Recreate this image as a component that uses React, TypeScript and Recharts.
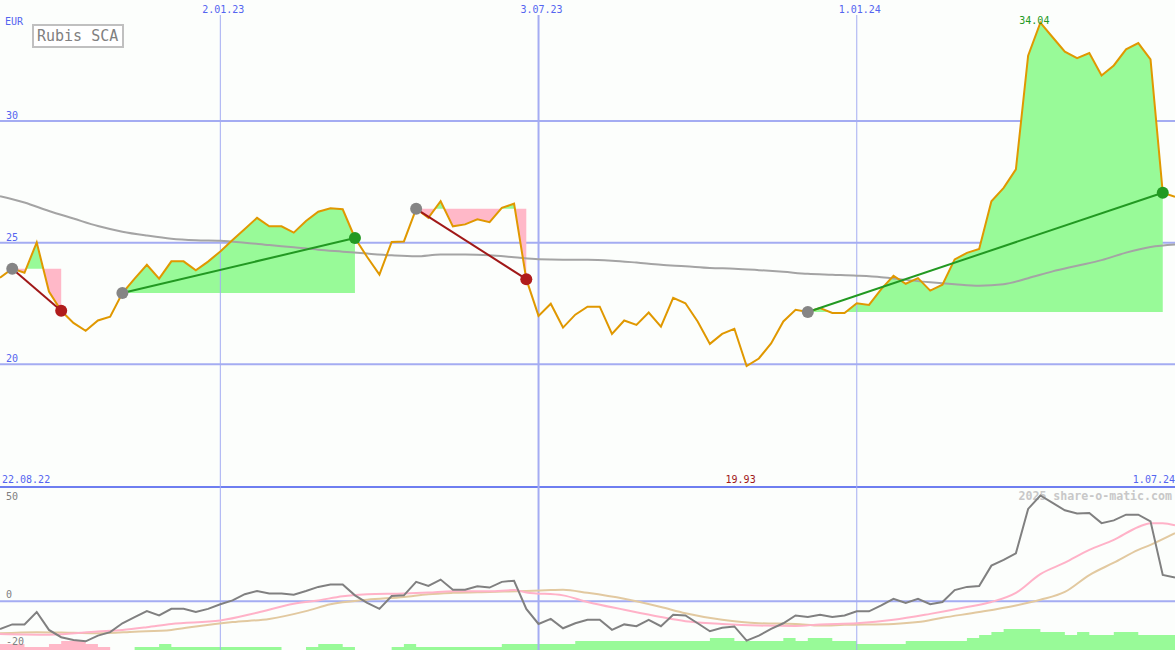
import React from 'react';
import { ComposedChart, Line, Area, XAxis, YAxis, ReferenceLine, ReferenceDot, CartesianGrid } from 'recharts';

// ---------- data ----------
const price = [
  23.56, 23.93, 23.76, 25.01, 22.99, 22.2, 21.7, 21.38, 21.8, 21.96,
  22.93, 23.52, 24.09, 23.52, 24.23, 24.23, 23.86, 24.22, 24.64, 25.11,
  25.56, 26.02, 25.67, 25.67, 25.41, 25.89, 26.27, 26.41, 26.37, 25.19,
  24.41, 23.69, 25.03, 25.05, 26.39, 26.02, 26.7, 25.67, 25.75, 25.96,
  25.84, 26.43, 26.6, 23.5, 21.99, 22.49, 21.51, 22.04, 22.37, 22.37,
  21.25, 21.8, 21.62, 22.13, 21.55, 22.73, 22.51, 21.76, 20.84, 21.25,
  21.46, 19.93, 20.24, 20.86, 21.76, 22.24, 22.15, 22.31, 22.11, 22.11,
  22.51, 22.44, 23.09, 23.64, 23.31, 23.54, 23.03, 23.27, 24.31, 24.58,
  24.74, 26.7, 27.25, 28.01, 32.68, 34.04, 33.44, 32.85, 32.58, 32.79,
  31.87, 32.28, 32.94, 33.2, 32.53, 27.05, 26.88,
];
// long moving average, one reading every 2 weeks
const maValues = [
  26.91, 26.65, 26.3, 25.99, 25.68, 25.45, 25.29, 25.16, 25.1, 25.08,
  25.0, 24.9, 24.81, 24.71, 24.63, 24.55, 24.48, 24.44, 24.51, 24.51,
  24.48, 24.4, 24.32, 24.3, 24.3, 24.26, 24.18, 24.09, 24.03, 23.96,
  23.93, 23.87, 23.8, 23.72, 23.68, 23.64, 23.58, 23.47, 23.37, 23.29,
  23.23, 23.29, 23.54, 23.82, 24.05, 24.28, 24.59, 24.82, 24.92,
];
const signalStarts = [1, 10, 34, 66];
const signalEnds = [5, 29, 43, 95];
const priceGrid = [30, 25, 20];
const dateTickIdx = [18, 44, 70];
const dateTickLabels = ['2.01.23', '3.07.23', '1.01.24'];
const startLabel = '22.08.22';
const endLabel = '1.07.24';
const title = 'Rubis SCA';
const currency = 'EUR';

const momentum = [
  -12.1, -10.1, -10.1, -4.7, -12.5, -15.7, -16.9, -17.5, -15.0, -13.5,
  -9.6, -6.9, -4.3, -6.2, -3.3, -3.3, -4.7, -3.3, -1.3, 0.4,
  3.1, 4.5, 3.4, 3.4, 2.9, 4.5, 6.3, 7.3, 7.3, 2.6,
  -0.7, -3.3, 2.3, 2.6, 8.5, 6.7, 9.5, 5.1, 5.1, 6.6,
  6.0, 8.5, 9.0, -3.3, -9.9, -7.7, -11.8, -9.6, -8.1, -8.1,
  -12.5, -10.1, -10.9, -8.1, -10.9, -5.9, -6.2, -9.6, -13.1, -11.6,
  -11.0, -17.2, -15.0, -12.1, -9.6, -6.2, -6.9, -5.9, -6.9, -6.2,
  -4.4, -4.4, -1.8, 1.1, -0.7, 1.1, -1.3, -0.3, 4.9, 6.3,
  6.7, 15.6, 18.1, 21.0, 40.4, 46.3, 43.1, 39.8, 38.4, 38.6,
  34.2, 35.4, 37.9, 37.9, 35.0, 11.5, 10.4,
];
const pinkIdx = [0, 4, 8, 10, 12, 14, 18, 21, 24, 26, 28, 30, 33, 35, 37, 40, 42, 43, 46, 48, 51, 54, 56, 59, 62, 65, 67, 70, 73, 76, 79, 81, 83, 85, 87, 89, 91, 93, 94, 95, 96];
const pinkVals = [-14.3, -14.6, -13.2, -12.5, -11.3, -9.9, -8.4, -5.0, -1.1, 0.4, 2.2, 3.1, 3.4, 3.8, 4.4, 4.4, 4.9, 3.9, 2.6, -0.3, -3.7, -6.9, -8.7, -9.9, -10.6, -10.8, -10.1, -9.6, -8.1, -5.5, -2.5, -0.3, 3.7, 11.9, 16.9, 22.5, 26.9, 32.5, 34.2, 34.2, 33.2];
const tanIdx = [0, 3, 6, 8, 11, 14, 16, 19, 22, 25, 27, 30, 33, 35, 37, 40, 43, 45, 46, 48, 51, 54, 56, 59, 62, 65, 67, 69, 73, 75, 77, 80, 83, 85, 87, 89, 91, 93, 94, 96];
const tanVals = [-14.0, -13.5, -13.8, -14.0, -13.3, -12.5, -11.0, -9.1, -7.7, -4.3, -1.3, 0.7, 1.9, 3.1, 3.7, 4.1, 4.5, 4.9, 5.1, 3.7, 1.1, -2.5, -5.2, -8.1, -9.6, -9.9, -10.6, -10.3, -9.9, -9.1, -7.2, -4.7, -1.8, 0.7, 4.1, 11.5, 16.9, 22.5, 24.7, 29.8];
// signal strength bars (negative = pink)
const barLevels = [
  -2, -2, -1, -1, -2, -3, -3, -2, -1, 0,
  0, 1, 1, 2, 1, 1, 1, 1, 1, 1,
  1, 1, 1, 0, 0, 1, 2, 2, 1, 0,
  0, 0, 1, 2, 1, 1, 1, 1, 1, 1,
  1, 2, 2, 2, 2, 2, 2, 3, 3, 3,
  3, 3, 3, 3, 3, 3, 3, 3, 4, 4,
  3, 3, 3, 3, 4, 3, 4, 4, 3, 3,
  2, 2, 2, 2, 3, 3, 3, 3, 3, 4,
  5, 6, 7, 7, 7, 6, 6, 5, 6, 5,
  5, 6, 6, 5, 5, 5, 5,
];
const momentumGrid = [50, 0, -20];
const watermark = '2025 share-o-matic.com';

// ---------- styles ----------
const W = 1175;
const TOP_H = 486;
const BOT_H = 164;
const BG = '#fcfefc';
const GRID = '#a4acf2';
const SEP = '#6e7ef0';
const BLUE = '#5465f0';
const GREEN_FILL = '#98fa98';
const PINK_FILL = '#ffb8c8';
const ORANGE = '#e09800';
const FONT = '"DejaVu Sans Mono", monospace';

// ---------- derived rows ----------
const lastIdx = price.length - 1;
const topRowsBase: any[] = price.map((p, i) => ({
  x: i,
  p,
  ma: i % 2 === 0 ? maValues[i / 2] : undefined,
}));
const crossRows: any[] = [];
signalStarts.forEach((a, s) => {
  const b = signalEnds[s];
  const base = price[a];
  for (let i = a; i <= b; i++) {
    const v = price[i];
    topRowsBase[i].g = [base, Math.max(v, base)];
    topRowsBase[i].k = [Math.min(v, base), base];
    if (i < b) {
      const q = price[i + 1];
      if ((v - base) * (q - base) < 0) {
        const t = (base - v) / (q - v);
        crossRows.push({ x: i + t, g: [base, base], k: [base, base] });
      }
    }
  }
});
const topRows = [...topRowsBase, ...crossRows].sort((u, v) => u.x - v.x);

const maxIdx = price.indexOf(Math.max(...price));
const minIdx = price.indexOf(Math.min(...price));

const botRows: any[] = momentum.map((m, i) => ({
  x: i,
  m,
  gb: Math.max(barLevels[i], 0),
  kb: Math.max(-barLevels[i], 0),
}));
pinkIdx.forEach((i, k) => { botRows[i].pl = pinkVals[k]; });
tanIdx.forEach((i, k) => { botRows[i].tl = tanVals[k]; });

// ---------- label renderers ----------
const gridLabel = (text: string, color: string, dy: number) => (props: any) => {
  const vb = props.viewBox || {};
  return (
    <text x={(vb.x || 0) + 6} y={(vb.y || 0) + dy} fill={color} fontSize={10} fontFamily={FONT}>
      {text}
    </text>
  );
};
const dateLabel = (text: string) => (props: any) => {
  const vb = props.viewBox || {};
  return (
    <g>
      <rect x={vb.x - 26} y={vb.y} width={56} height={15} fill={BG} />
      <text x={vb.x + 3} y={vb.y + 13} textAnchor="middle" fill={BLUE} fontSize={10} fontFamily={FONT}>
        {text}
      </text>
    </g>
  );
};
const bottomLabel = (text: string, color: string, anchor: string, dx: number) => (props: any) => {
  const vb = props.viewBox || {};
  return (
    <text x={vb.x + dx} y={vb.y + vb.height - 3} textAnchor={anchor} fill={color} fontSize={10} fontFamily={FONT}>
      {text}
    </text>
  );
};
const peakLabel = (text: string) => (props: any) => {
  const vb = props.viewBox || {};
  const cx = vb.x + (vb.width || 0) / 2;
  const cy = vb.y + (vb.height || 0) / 2;
  return (
    <text x={cx - 6} y={cy + 1} textAnchor="middle" fill="#229922" fontSize={10} fontFamily={FONT}>
      {text}
    </text>
  );
};
const topGridLabel = (props: any) => {
  const vb = props.viewBox || {};
  return (
    <g>
      <text x={vb.x + 6} y={vb.y + 13} fill="#808080" fontSize={10} fontFamily={FONT}>50</text>
      <text x={vb.x + vb.width - 3} y={vb.y + 13} textAnchor="end" fill="#c8c8c8" fontSize={11.6} fontWeight="bold" fontFamily={FONT}>
        {watermark}
      </text>
    </g>
  );
};

export default function App() {
  return (
    <div style={{ position: 'absolute', left: 0, top: 0, width: W, height: 650, background: BG, overflow: 'hidden' }}>
      <ComposedChart width={W} height={TOP_H} data={topRows} margin={{ top: 0, right: 0, bottom: 0, left: 0 }}>
        <XAxis type="number" dataKey="x" domain={[0, lastIdx]} hide allowDataOverflow />
        <YAxis type="number" domain={[15, 34.97]} hide allowDataOverflow />
        <CartesianGrid vertical={false} horizontalValues={priceGrid} stroke={GRID} strokeWidth={2} strokeDasharray="" />
        <Area dataKey="g" type="linear" fill={GREEN_FILL} fillOpacity={1} stroke="none" isAnimationActive={false} />
        <Area dataKey="k" type="linear" fill={PINK_FILL} fillOpacity={1} stroke="none" isAnimationActive={false} />
        {priceGrid.map((v) => (
          <ReferenceLine key={'g' + v} y={v} stroke="none" label={gridLabel(String(v), BLUE, -2)} />
        ))}
        {dateTickIdx.map((i, k) => (
          <ReferenceLine key={'d' + i} x={i} stroke={GRID} strokeWidth={k === 1 ? 2 : 1} label={dateLabel(dateTickLabels[k])} />
        ))}
        <Line dataKey="ma" type="monotone" stroke="#a4a4a4" strokeWidth={2} dot={false} connectNulls isAnimationActive={false} />
        <Line dataKey="p" type="linear" stroke={ORANGE} strokeWidth={2} dot={false} connectNulls isAnimationActive={false} />
        {signalStarts.map((a, s) => {
          const b = signalEnds[s];
          const up = price[b] > price[a];
          return (
            <ReferenceLine
              key={'t' + s}
              segment={[{ x: a, y: price[a] }, { x: b, y: price[b] }]}
              stroke={up ? '#229922' : '#a01818'}
              strokeWidth={2}
            />
          );
        })}
        {signalStarts.map((a) => (
          <ReferenceDot key={'s' + a} x={a} y={price[a]} r={6} fill="#858585" stroke="none" />
        ))}
        {signalEnds.map((b, s) => {
          const up = price[b] > price[signalStarts[s]];
          return <ReferenceDot key={'e' + b} x={b} y={price[b]} r={6} fill={up ? '#229922' : '#b01c1c'} stroke="none" />;
        })}
        <ReferenceDot x={maxIdx} y={price[maxIdx]} r={0} fill="none" stroke="none" label={peakLabel(price[maxIdx].toFixed(2))} />
        <ReferenceLine x={minIdx} stroke="none" label={bottomLabel(price[minIdx].toFixed(2), '#a01818', 'middle', -6)} />
        <ReferenceLine x={0} stroke="none" label={bottomLabel(startLabel, BLUE, 'start', 2)} />
        <ReferenceLine x={lastIdx} stroke="none" label={bottomLabel(endLabel, BLUE, 'end', 0)} />
      </ComposedChart>
      <ComposedChart width={W} height={BOT_H} data={botRows} margin={{ top: 0, right: 0, bottom: 0, left: 0 }}>
        <XAxis type="number" dataKey="x" domain={[0, lastIdx]} hide allowDataOverflow />
        <YAxis type="number" domain={[-21.3, 50.44]} hide allowDataOverflow />
        <YAxis yAxisId="bars" type="number" domain={[0, BOT_H / 3]} hide allowDataOverflow />
        <ReferenceLine y={momentumGrid[0]} stroke={SEP} strokeWidth={2} label={topGridLabel} />
        <ReferenceLine y={momentumGrid[1]} stroke={GRID} strokeWidth={2} label={gridLabel(String(momentumGrid[1]), '#808080', -3)} />
        <ReferenceLine y={momentumGrid[2]} stroke="none" label={gridLabel(String(momentumGrid[2]), '#808080', -2)} />
        {dateTickIdx.map((i, k) => (
          <ReferenceLine key={'bd' + i} x={i} stroke={GRID} strokeWidth={k === 1 ? 2 : 1} />
        ))}
        <Area yAxisId="bars" dataKey="gb" type="stepAfter" fill={GREEN_FILL} fillOpacity={1} stroke="none" isAnimationActive={false} />
        <Area yAxisId="bars" dataKey="kb" type="stepAfter" fill={PINK_FILL} fillOpacity={1} stroke="none" isAnimationActive={false} />
        <Line dataKey="tl" type="monotone" stroke="#e2c9a0" strokeWidth={2} dot={false} connectNulls isAnimationActive={false} />
        <Line dataKey="pl" type="monotone" stroke="#ffb2c8" strokeWidth={2} dot={false} connectNulls isAnimationActive={false} />
        <Line dataKey="m" type="linear" stroke="#808080" strokeWidth={2} dot={false} isAnimationActive={false} />
      </ComposedChart>
      <svg width={140} height={52} style={{ position: 'absolute', left: 0, top: 0 }}>
        <text x={5} y={25} fill={BLUE} fontSize={10} fontFamily={FONT}>{currency}</text>
        <rect x={33} y={25} width={90} height={22} fill="#ffffff" stroke="#c0c0c0" strokeWidth={2} />
        <text x={37} y={41} fill="#808080" fontSize={15} fontFamily={FONT}>{title}</text>
      </svg>
    </div>
  );
}
